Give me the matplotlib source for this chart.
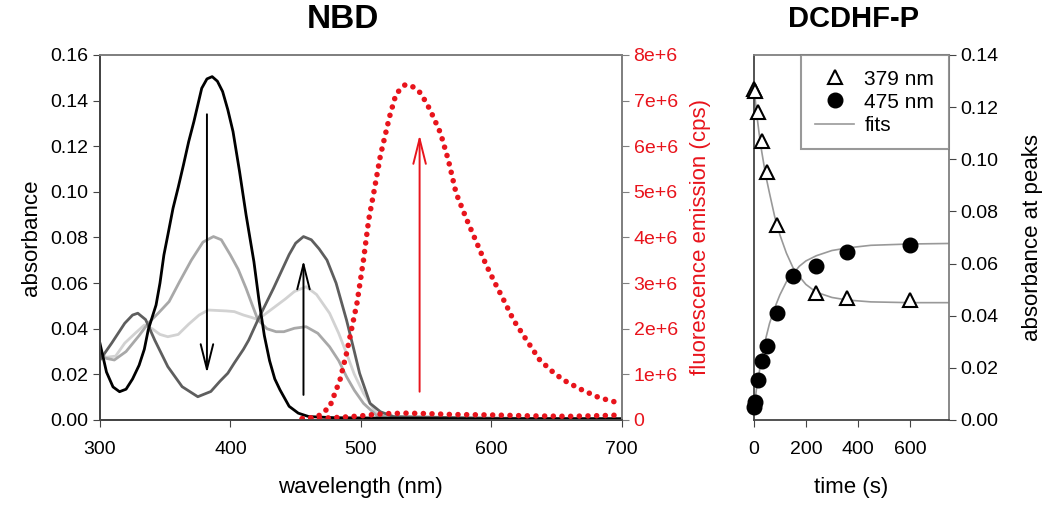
import matplotlib.pyplot as plt
from matplotlib.ticker import FuncFormatter

plt.rcParams['font.family'] = ['Liberation Sans', 'DejaVu Sans']

# --- NBD absorbance spectra (wavelength nm, absorbance) ---
wl_black = [300, 305, 310, 315, 320, 325, 330, 334, 337, 340, 343, 346, 349, 352, 356, 360,
            364, 368, 372, 378, 382, 386, 390, 394, 398, 402, 407, 412, 418, 422, 426, 430,
            434, 438, 445, 452, 460, 480, 520, 600, 700]
abs_black = [0.0336, 0.021, 0.0145, 0.0124, 0.0135, 0.018, 0.024, 0.031, 0.0395, 0.045,
             0.0504, 0.060, 0.0723, 0.081, 0.0928, 0.102, 0.1118, 0.122, 0.1308, 0.1454,
             0.1495, 0.1505, 0.1485, 0.144, 0.136, 0.1264, 0.1089, 0.0899, 0.0694, 0.052,
             0.037, 0.026, 0.018, 0.0132, 0.006, 0.003, 0.0015, 0.001, 0.0008, 0.0005, 0.0005]

wl_dark = [300, 309, 319, 325, 329, 335, 342, 352, 363, 375, 385, 392, 398, 403, 410, 414,
           421, 433, 445, 450, 456, 462, 468, 474, 481, 489, 495, 499, 507, 515, 525, 600, 700]
abs_dark = [0.0263, 0.0337, 0.0424, 0.046, 0.0468, 0.044, 0.035, 0.0234, 0.0146, 0.0102,
            0.0125, 0.017, 0.0205, 0.025, 0.031, 0.035, 0.0438, 0.0577, 0.0725, 0.0775,
            0.0804, 0.079, 0.075, 0.0701, 0.060, 0.0438, 0.030, 0.0205, 0.0073, 0.0036,
            0.0015, 0.0008, 0.0005]

wl_mid = [300, 305, 311, 320, 330, 337, 345, 353, 361, 370, 379, 387, 393, 400, 406, 412,
          417, 421, 428, 435, 441, 449, 458, 467, 476, 483, 489, 495, 502, 512, 525, 600, 700]
abs_mid = [0.028, 0.027, 0.0263, 0.030, 0.037, 0.0424, 0.047, 0.0519, 0.0606, 0.070, 0.078,
           0.0804, 0.079, 0.0723, 0.066, 0.0577, 0.050, 0.044, 0.040, 0.0387, 0.0387, 0.0402,
           0.0409, 0.038, 0.0321, 0.026, 0.019, 0.013, 0.0073, 0.002, 0.001, 0.0005, 0.0005]

wl_light = [300, 305, 312, 319, 327, 334, 340, 346, 352, 360, 368, 376, 383, 390, 397, 403,
            410, 416, 421, 428, 435, 442, 449, 458, 466, 476, 483, 489, 495, 502, 512, 525,
            600, 700]
abs_light = [0.029, 0.0275, 0.028, 0.0337, 0.038, 0.0416, 0.040, 0.0375, 0.0365, 0.0375,
             0.042, 0.046, 0.0482, 0.048, 0.0478, 0.0475, 0.046, 0.045, 0.044, 0.047, 0.050,
             0.053, 0.0563, 0.0584, 0.055, 0.0468, 0.038, 0.0292, 0.020, 0.0117, 0.0029,
             0.001, 0.0005, 0.0005]

# --- NBD fluorescence emission (cps, units of 1e6) ---
wl_em = [455, 462, 468, 476, 484, 489, 497, 502, 506, 510, 515, 522, 527, 534, 540, 546,
         553, 561, 567, 573, 581, 589, 596, 603, 610, 617, 627, 637, 646, 655, 668, 681,
         690, 700]
em_after = [0.02, 0.05, 0.1, 0.28, 0.88, 1.46, 2.56, 3.51, 4.39, 5.0, 5.8, 6.65, 7.15, 7.35,
            7.3, 7.16, 6.8, 6.29, 5.7, 4.97, 4.4, 3.87, 3.4, 2.99, 2.6, 2.19, 1.75, 1.32,
            1.08, 0.88, 0.68, 0.51, 0.43, 0.36]
wl_em0 = [455, 470, 485, 500, 510, 520, 535, 550, 570, 600, 630, 660, 690, 700]
em_before = [0.03, 0.04, 0.06, 0.09, 0.12, 0.14, 0.15, 0.14, 0.12, 0.11, 0.09, 0.08, 0.10, 0.11]

# --- DCDHF-P kinetics ---
t_379 = [0, 5, 15, 30, 50, 90, 240, 360, 600]
a_379 = [0.127, 0.126, 0.118, 0.107, 0.095, 0.0746, 0.0486, 0.0469, 0.0460]
t_475 = [0, 5, 15, 30, 50, 90, 150, 240, 360, 600]
a_475 = [0.005, 0.0069, 0.0153, 0.0227, 0.0285, 0.0412, 0.0554, 0.0591, 0.0645, 0.0672]

t_fit = [0, 10, 20, 30, 45, 60, 80, 100, 125, 150, 175, 200, 240, 300, 360, 450, 600, 750]
fit_379 = [0.128, 0.118, 0.110, 0.103, 0.094, 0.087, 0.078, 0.071, 0.064, 0.0585, 0.055,
           0.052, 0.049, 0.047, 0.046, 0.0453, 0.045, 0.045]
fit_475 = [0.004, 0.012, 0.018, 0.024, 0.031, 0.037, 0.043, 0.048, 0.053, 0.056, 0.059,
           0.061, 0.063, 0.065, 0.066, 0.067, 0.0675, 0.0677]

SPINE_DARK = '#444444'
SPINE_GRAY = '#808080'
RED = '#e8141c'
TICK_FS = 14
LABEL_FS = 16

fig = plt.figure(figsize=(10.5, 5.07), dpi=100)

# left panel: NBD
ax = fig.add_axes([0.0952, 0.1716, 0.497, 0.72])
ax.plot(wl_light, abs_light, color='#d2d2d2', lw=2.0)
ax.plot(wl_mid, abs_mid, color='#a8a8a8', lw=2.0)
ax.plot(wl_dark, abs_dark, color='#5e5e5e', lw=2.0)
ax.plot(wl_black, abs_black, color='black', lw=2.0)
ax.set_xlim(300, 700)
ax.set_ylim(0, 0.16)
ax.set_xticks([300, 400, 500, 600, 700])
ax.set_yticks([i * 0.02 for i in range(9)])
ax.yaxis.set_major_formatter(FuncFormatter(lambda v, p: f'{v:.2f}'))
ax.set_xlabel('wavelength (nm)', fontsize=LABEL_FS, labelpad=14)
ax.set_ylabel('absorbance', fontsize=LABEL_FS, labelpad=6)
ax.tick_params(labelsize=TICK_FS, direction='out', length=5, color=SPINE_DARK)
ax.tick_params(axis='x', pad=10)

arrow_kw = dict(arrowstyle='->,head_length=1.8,head_width=0.45', lw=1.4, color='black',
                shrinkA=0, shrinkB=0)
ax.annotate('', xy=(382, 0.0205), xytext=(382, 0.134), arrowprops=arrow_kw)
ax.annotate('', xy=(456, 0.070), xytext=(456, 0.011), arrowprops=arrow_kw)

ax2 = ax.twinx()
ax2.plot(wl_em, em_after, color=RED, lw=4.0, linestyle=(0, (0.01, 1.55)),
         dash_capstyle='round')
ax2.plot(wl_em0, em_before, color=RED, lw=4.0, linestyle=(0, (0.01, 1.55)),
         dash_capstyle='round')
ax2.set_ylim(0, 8)
ax2.set_yticks(range(9))
ax2.yaxis.set_major_formatter(FuncFormatter(lambda v, p: '0' if v == 0 else f'{int(v)}e+6'))
ax2.tick_params(labelsize=TICK_FS, direction='out', length=5, color=SPINE_GRAY,
                labelcolor=RED)
ax2.set_ylabel('fluorescence emission (cps)', fontsize=LABEL_FS, color=RED, labelpad=9)
red_kw = dict(arrow_kw, color=RED)
ax2.annotate('', xy=(545, 6.25), xytext=(545, 0.62), arrowprops=red_kw)

for a in (ax, ax2):
    a.spines['left'].set_color(SPINE_DARK)
    a.spines['bottom'].set_color(SPINE_DARK)
    a.spines['top'].set_color(SPINE_GRAY)
    a.spines['right'].set_color(SPINE_GRAY)
    for s in a.spines.values():
        s.set_linewidth(1.3)

# right panel: DCDHF-P
bx = fig.add_axes([0.718, 0.1716, 0.1857, 0.72])
bx.plot(t_fit, fit_379, color='#999999', lw=1.2, label='_nolegend_')
bx.plot(t_fit, fit_475, color='#999999', lw=1.2, label='fits')
bx.plot(t_379, a_379, linestyle='none', marker='^', ms=10.5, mfc='white', mec='black',
        mew=1.5, clip_on=False, label='379 nm', zorder=4)
bx.plot(t_475, a_475, linestyle='none', marker='o', ms=10.5, color='black', clip_on=False,
        label='475 nm', zorder=5)
bx.set_xlim(0, 750)
bx.set_ylim(0, 0.14)
bx.set_xticks([0, 200, 400, 600])
bx.set_yticks([i * 0.02 for i in range(8)])
bx.yaxis.set_major_formatter(FuncFormatter(lambda v, p: f'{v:.2f}'))
bx.yaxis.tick_right()
bx.yaxis.set_label_position('right')
bx.set_xlabel('time (s)', fontsize=LABEL_FS, labelpad=14)
bx.set_ylabel('absorbance at peaks', fontsize=LABEL_FS, labelpad=17)
bx.tick_params(labelsize=TICK_FS, direction='out', length=5, color=SPINE_DARK)
bx.tick_params(axis='x', pad=10)
for name, s in bx.spines.items():
    s.set_linewidth(1.3)
    s.set_color(SPINE_GRAY if name in ('top', 'right') else SPINE_DARK)

handles, labels = bx.get_legend_handles_labels()
order = [labels.index('379 nm'), labels.index('475 nm'), labels.index('fits')]
leg = bx.legend([handles[i] for i in order], [labels[i] for i in order], loc='upper right',
                fontsize=15, frameon=True, fancybox=False, borderaxespad=0,
                handlelength=1.85, handletextpad=0.5, borderpad=0.7, labelspacing=0.2)
leg.get_frame().set_edgecolor(SPINE_GRAY)
leg.get_frame().set_linewidth(1.5)

# panel titles
fig.text(343 / 1050, 1 - 19 / 507, 'NBD', fontsize=24, fontweight='bold',
         ha='center', va='center')
fig.text(854 / 1050, 1 - 19 / 507, 'DCDHF-P', fontsize=21, fontweight='bold',
         ha='center', va='center')

fig.savefig('out.png', dpi=100)
